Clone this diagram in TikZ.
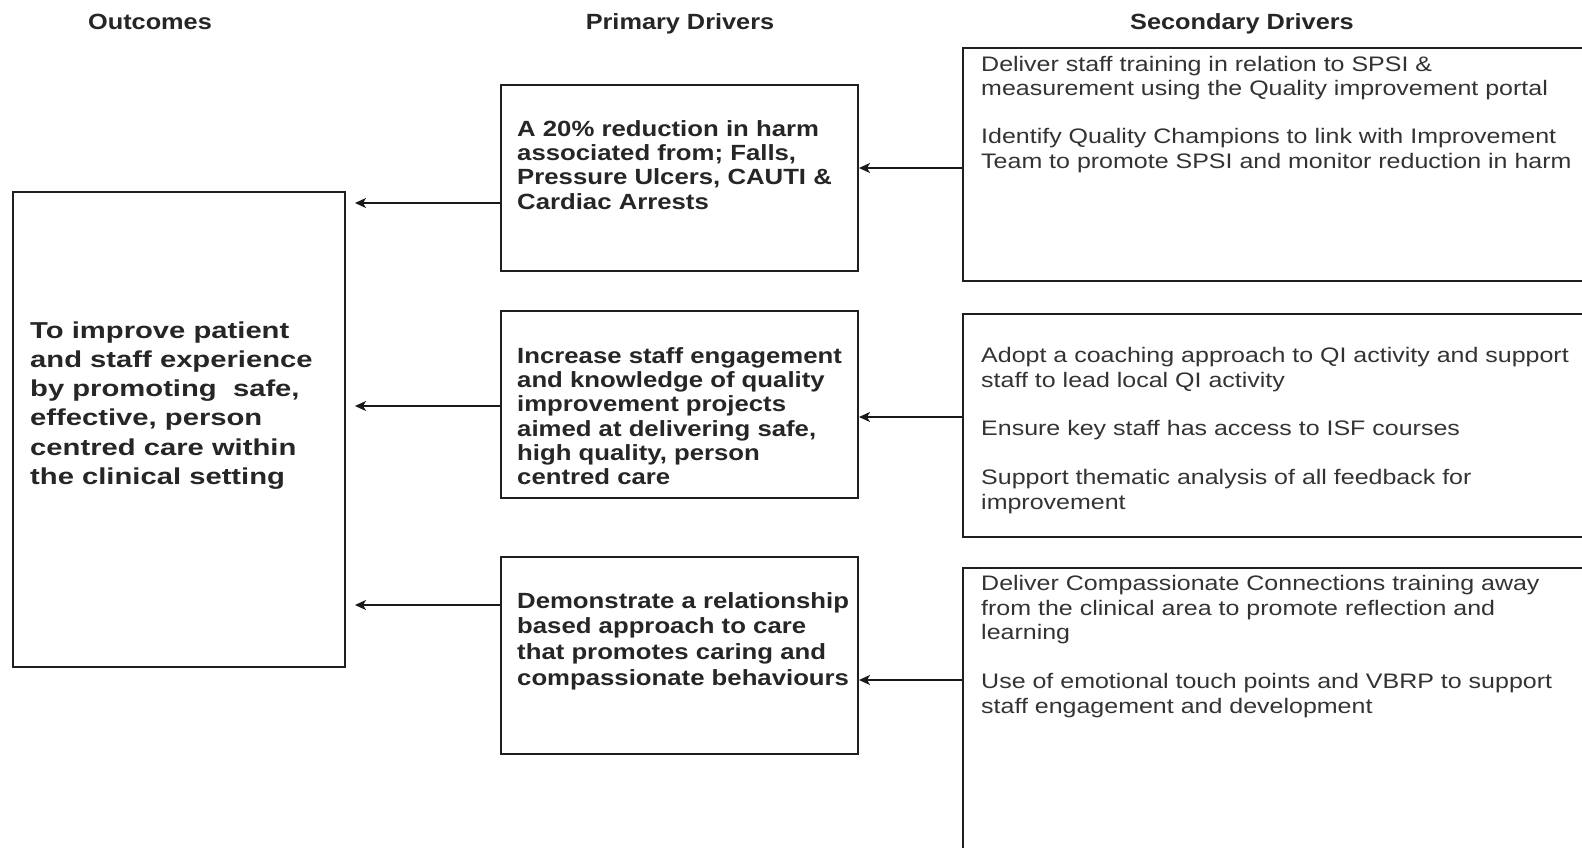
\documentclass[tikz,border=0pt]{standalone}
\usepackage{fontspec}
\setmainfont{Liberation Sans}
\newfontfamily\outfont{Liberation Sans}[FakeStretch=1.27]
\newfontfamily\primfont{Liberation Sans}[FakeStretch=1.17]
\newfontfamily\secfont{Liberation Sans}[FakeStretch=1.19]
\newfontfamily\headfont{Liberation Sans}[FakeStretch=1.15]
\usetikzlibrary{arrows.meta}
\newcommand\firststrut[1]{\rule{0pt}{#1}}
\begin{document}
\begin{tikzpicture}[x=1pt,y=-1pt,
  box/.style={draw=black!88,line width=2pt,inner sep=0pt,anchor=north west},
  arr/.style={draw=black!90,line width=1.5pt,-{Stealth[length=11pt,width=10pt,inset=3pt]}},
  head/.style={font=\headfont\bfseries\fontsize{22}{26}\selectfont,text=black!85,inner sep=0pt,anchor=base},
  outtxt/.style={font=\outfont\bfseries\fontsize{23}{29.2}\selectfont,text=black!85,align=left,inner sep=0pt,anchor=north west},
  primtxt/.style={font=\primfont\bfseries\fontsize{22}{24.3}\selectfont,text=black!85,align=left,inner sep=0pt,anchor=north west},
  sectxt/.style={font=\secfont\fontsize{21}{24.8}\selectfont,text=black!80,align=left,inner sep=0pt,anchor=north west}]
\clip (0,0) rectangle (1582,848);
\fill[white] (0,0) rectangle (1582,848);

% headers
\node[head] (h1) at (150,30) {Outcomes};
\node[head] (h2) at (680,30) {Primary Drivers};
\node[head] (h3) at (1242,30) {Secondary Drivers};

% boxes
\node[box,minimum width=332pt,minimum height=475pt] (o) at (12,191) {};
\node[box,minimum width=357pt,minimum height=186pt] (p1) at (500,84) {};
\node[box,minimum width=357pt,minimum height=187pt] (p2) at (500,310) {};
\node[box,minimum width=357pt,minimum height=197pt] (p3) at (500,556) {};
\node[box,minimum width=700pt,minimum height=233pt] (s1) at (962,47) {};
\node[box,minimum width=700pt,minimum height=223pt] (s2) at (962,313) {};
\node[box,minimum width=700pt,minimum height=400pt] (s3) at (962,567) {};

% texts
\node[outtxt] (ot) at (30,319.6) {\firststrut{18.4pt}To improve patient\\and staff experience\\by promoting\ \ safe,\\effective, person\\centred care within\\the clinical setting};
\node[primtxt] (pt1) at (517,118.4) {\firststrut{17.6pt}A 20\% reduction in harm\\associated from; Falls,\\Pressure Ulcers, CAUTI \&\\Cardiac Arrests};
\node[primtxt] (pt2) at (517,345.4) {\firststrut{17.6pt}Increase staff engagement\\and knowledge of quality\\improvement projects\\aimed at delivering safe,\\high quality, person\\centred care};
\node[primtxt,font=\primfont\bfseries\fontsize{22}{25.6}\selectfont] (pt3) at (517,590.4) {\firststrut{17.6pt}Demonstrate a relationship\\based approach to care\\that promotes caring and\\compassionate behaviours};
\node[sectxt] (st1) at (981,54.2) {\firststrut{16.8pt}Deliver staff training in relation to SPSI \&\\measurement using the Quality improvement portal\\[23pt]Identify Quality Champions to link with Improvement\\Team to promote SPSI and monitor reduction in harm};
\node[sectxt] (st2) at (981,345.2) {\firststrut{16.8pt}Adopt a coaching approach to QI activity and support\\staff to lead local QI activity\\[24pt]Ensure key staff has access to ISF courses\\[24pt]Support thematic analysis of all feedback for\\improvement};
\node[sectxt] (st3) at (981,573.2) {\firststrut{16.8pt}Deliver Compassionate Connections training away\\from the clinical area to promote reflection and\\learning\\[24pt]Use of emotional touch points and VBRP to support\\staff engagement and development};

% connectors
\draw[arr,shorten >=9pt] (p1.west |- 0,203) -- (o.east |- 0,203);
\draw[arr,shorten >=9pt] (p2.west |- 0,406) -- (o.east |- 0,406);
\draw[arr,shorten >=9pt] (p3.west |- 0,605) -- (o.east |- 0,605);
\draw[arr] (s1.west |- 0,168) -- (p1.east |- 0,168);
\draw[arr] (s2.west |- 0,417) -- (p2.east |- 0,417);
\draw[arr] (s3.west |- 0,680) -- (p3.east |- 0,680);
\end{tikzpicture}
\end{document}
